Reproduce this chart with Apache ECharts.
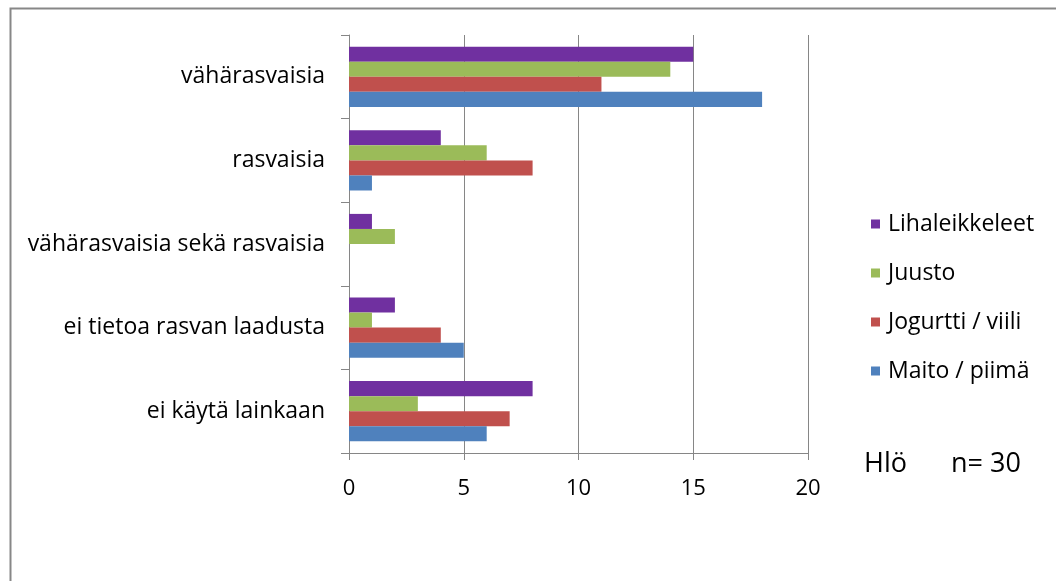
<!DOCTYPE html>
<html>
<head>
<meta charset="utf-8">
<script src="https://cdn.jsdelivr.net/npm/echarts@6/dist/echarts.min.js"></script>
<style>
  html, body { margin: 0; padding: 0; background: #fff; }
  #chart { width: 1056px; height: 581px; }
</style>
</head>
<body>
<div id="chart"></div>
<script>
// Categories listed bottom-to-top (ECharts category y-axis grows upward)
const categories = [
  'ei käytä lainkaan',
  'ei tietoa rasvan laadusta',
  'vähärasvaisia sekä rasvaisia',
  'rasvaisia',
  'vähärasvaisia'
];
const maitoPiima     = [6, 5, 0, 1, 18];
const jogurttiViili  = [7, 4, 0, 8, 11];
const juusto         = [3, 1, 2, 6, 14];
const lihaleikkeleet = [8, 2, 1, 4, 15];
const legendOrder = ['Lihaleikkeleet', 'Juusto', 'Jogurtti / viili', 'Maito / piimä'];
const xTicks = { min: 0, max: 20, interval: 5 };

const FONT = 'Open Sans';
const chart = echarts.init(document.getElementById('chart'));

function bar(name, data, color) {
  return {
    name, type: 'bar', data,
    barGap: '0%', barCategoryGap: '28%',
    itemStyle: { color },
    emphasis: { disabled: true }
  };
}

chart.setOption({
  animation: false,
  textStyle: { fontFamily: FONT },
  graphic: [{
    type: 'rect', left: 8, top: 6, silent: true,
    shape: { width: 1200, height: 800 },
    style: { fill: 'none', stroke: '#878787', lineWidth: 2 }
  }, {
    type: 'text', left: 864, top: 451,
    style: { text: 'Hlö', font: '27px "' + FONT + '"', fill: '#000' }
  }, {
    type: 'text', left: 951, top: 451,
    style: { text: 'n= 30', font: '27px "' + FONT + '"', fill: '#000' }
  }],
  grid: { left: 349, right: 248, top: 35, bottom: 128, containLabel: false },
  legend: {
    orient: 'vertical', left: 866, top: 206,
    data: legendOrder,
    icon: 'rect', itemWidth: 9, itemHeight: 9, itemGap: 23,
    textStyle: { fontSize: 23, lineHeight: 26, color: '#000', fontFamily: FONT, padding: [0, 0, 0, 3] },
    selectedMode: false
  },
  xAxis: {
    type: 'value', min: xTicks.min, max: xTicks.max, interval: xTicks.interval,
    axisLine: { show: true, lineStyle: { color: '#868686' } },
    axisTick: { show: true, length: 7, lineStyle: { color: '#868686' } },
    splitLine: { show: true, lineStyle: { color: '#868686' } },
    axisLabel: { fontSize: 22, color: '#000', margin: 25, fontFamily: FONT }
  },
  yAxis: {
    type: 'category', data: categories,
    axisLine: { show: true, lineStyle: { color: '#868686' } },
    axisTick: { show: true, length: 8, lineStyle: { color: '#868686' } },
    axisLabel: { fontSize: 23, color: '#000', margin: 24, fontFamily: FONT }
  },
  // Series listed top-to-bottom within each category band
  series: [
    bar('Lihaleikkeleet', lihaleikkeleet, '#7030A0'),
    bar('Juusto', juusto, '#9BBB59'),
    bar('Jogurtti / viili', jogurttiViili, '#C0504D'),
    bar('Maito / piimä', maitoPiima, '#4F81BD')
  ]
});
</script>
</body>
</html>
